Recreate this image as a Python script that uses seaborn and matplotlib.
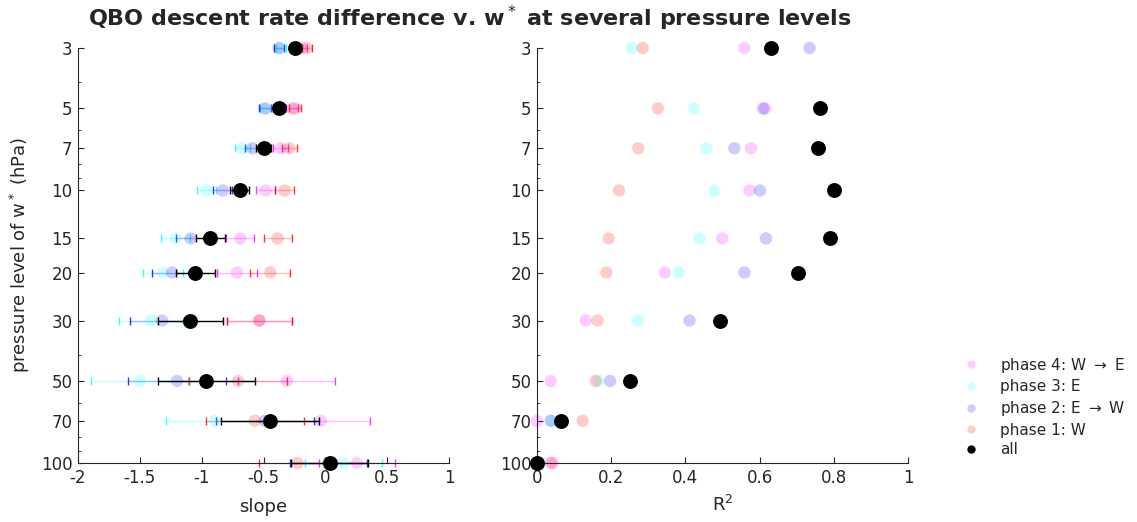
import numpy as np
import pandas as pd
import matplotlib
matplotlib.use("Agg")
import matplotlib.pyplot as plt
from matplotlib.lines import Line2D
from matplotlib.ticker import FixedLocator, NullFormatter
import seaborn as sns

levels = [3, 5, 7, 10, 15, 20, 30, 50, 70, 100]

slope_p1 = [-0.15, -0.245, -0.29, -0.329, -0.386, -0.445, -0.534, -0.706, -0.569, -0.224]
slope_p2 = [-0.377, -0.49, -0.59, -0.829, -1.090, -1.239, -1.32, -1.20, -0.49, 0.024]
slope_p3 = [-0.36, -0.475, -0.673, -0.961, -1.211, -1.311, -1.41, -1.50, -0.894, 0.149]
slope_p4 = [-0.19, -0.27, -0.36, -0.482, -0.687, -0.714, -0.534, -0.311, -0.036, 0.255]
slope_all = [-0.245, -0.377, -0.497, -0.692, -0.929, -1.05, -1.091, -0.961, -0.45, 0.036]
slope_err = [0.04, 0.05, 0.06, 0.078, 0.114, 0.161, 0.262, 0.393, 0.396, 0.31]

r2_p1 = [0.285, 0.326, 0.273, 0.221, 0.193, 0.187, 0.163, 0.158, 0.123, 0.037]
r2_p2 = [0.735, 0.609, 0.532, 0.601, 0.617, 0.559, 0.411, 0.197, 0.037, 0.0]
r2_p3 = [0.255, 0.423, 0.456, 0.478, 0.438, 0.382, 0.272, 0.166, 0.04, 0.01]
r2_p4 = [0.559, 0.615, 0.577, 0.573, 0.499, 0.345, 0.131, 0.037, 0.0, 0.043]
r2_all = [0.631, 0.764, 0.757, 0.80, 0.789, 0.704, 0.492, 0.25, 0.066, 0.0]

phase_names = ["phase 4: W $\\rightarrow$ E", "phase 3: E", "phase 2: E $\\rightarrow$ W", "phase 1: W"]
phase_colors = ["#ff00ff", "#00ffff", "#0000ff", "#ff0000"]
slopes = [slope_p4, slope_p3, slope_p2, slope_p1]
r2s = [r2_p4, r2_p3, r2_p2, r2_p1]
xticks_left = [-2, -1.5, -1, -0.5, 0, 0.5, 1]
xticks_right = [0, 0.2, 0.4, 0.6, 0.8, 1]

rows = []
for name, s, r in zip(phase_names, slopes, r2s):
    for lev, sv, rv, ev in zip(levels, s, r, slope_err):
        rows.append(dict(phase=name, level=lev, slope=sv, r2=rv, err=ev))
df = pd.DataFrame(rows)
df_all = pd.DataFrame(dict(level=levels, slope=slope_all, r2=r2_all, err=slope_err))

sns.set_theme(style="ticks")
txt = "#262626"
plt.rcParams.update({
    "font.family": ["DejaVu Sans"],
    "text.color": txt, "axes.labelcolor": txt, "xtick.color": txt, "ytick.color": txt,
    "axes.edgecolor": txt, "xtick.direction": "in", "ytick.direction": "in",
    "axes.linewidth": 0.8,
})

fig = plt.figure(figsize=(11.37, 5.22), dpi=100)
axL = fig.add_axes([78 / 1137, 59 / 522, 371 / 1137, 415 / 522])
axR = fig.add_axes([537 / 1137, 59 / 522, 371 / 1137, 415 / 522])

pal = dict(zip(phase_names, phase_colors))

# left panel error bars
for name, col in zip(phase_names, phase_colors):
    d = df[df.phase == name]
    _, caps, bars = axL.errorbar(d.slope, d.level, xerr=d.err, fmt="none", ecolor=col,
                                 elinewidth=1.0, capsize=3, capthick=1.0, zorder=1)
    for c in caps:
        c.set_alpha(0.8); c.set_clip_on(False)
    for b in bars:
        b.set_alpha(0.25); b.set_clip_on(False)

sns.scatterplot(data=df, x="slope", y="level", hue="phase", palette=pal, s=80, alpha=0.2,
                linewidth=0, ax=axL, legend=False, zorder=2, clip_on=False)
_, caps, bars = axL.errorbar(df_all.slope, df_all.level, xerr=df_all.err, fmt="none",
                             ecolor="black", elinewidth=1.0, capsize=3, capthick=1.0, zorder=3)
for c in caps:
    c.set_clip_on(False)
for b in bars:
    b.set_clip_on(False)
sns.scatterplot(data=df_all, x="slope", y="level", color="black", s=115, linewidth=0,
                ax=axL, legend=False, zorder=4, clip_on=False)

sns.scatterplot(data=df, x="r2", y="level", hue="phase", palette=pal, s=80, alpha=0.2,
                linewidth=0, ax=axR, legend=False, zorder=2, clip_on=False)
sns.scatterplot(data=df_all, x="r2", y="level", color="black", s=115, linewidth=0,
                ax=axR, legend=False, zorder=4, clip_on=False)

for ax, xt, xlim in [(axL, xticks_left, (-2, 1)), (axR, xticks_right, (0, 1))]:
    ax.set_yscale("log")
    ax.set_ylim(100, 3)
    ax.yaxis.set_major_locator(FixedLocator(levels))
    ax.set_yticklabels([str(l) for l in levels])
    ax.yaxis.set_minor_locator(FixedLocator([4, 6, 8, 9, 40, 60, 80, 90]))
    ax.yaxis.set_minor_formatter(NullFormatter())
    ax.set_xlim(*xlim)
    ax.set_xticks(xt)
    ax.set_xticklabels([("%g" % v) for v in xt])
    ax.tick_params(axis="both", which="major", length=4, width=0.8, labelsize=12, pad=4)
    ax.tick_params(axis="y", which="minor", length=2.5, width=0.6)
    sns.despine(ax=ax)
    ax.set_ylabel("")

axL.set_xlabel("slope", fontsize=13, labelpad=8)
axR.set_xlabel("R$^2$", fontsize=13, labelpad=6)
axL.set_ylabel("pressure level of w$^*$ (hPa)", fontsize=13, labelpad=6)

fig.text(470 / 1137, 1 - 18 / 522, "QBO descent rate difference v. w$^*$ at several pressure levels",
         ha="center", va="center", fontsize=16, fontweight="bold")

handles = [Line2D([], [], marker="o", linestyle="none", markersize=6, markeredgewidth=0,
                  markerfacecolor=c, alpha=0.2) for c in phase_colors]
handles.append(Line2D([], [], marker="o", linestyle="none", markersize=6, markeredgewidth=0,
                      markerfacecolor="black"))
fig.legend(handles, phase_names + ["all"], loc="upper left",
           bbox_to_anchor=(950 / 1137, 1 - 342 / 522), frameon=False, fontsize=11,
           handlelength=1.0, handletextpad=1.4, labelspacing=0.3)

fig.savefig("out.png", dpi=100)
